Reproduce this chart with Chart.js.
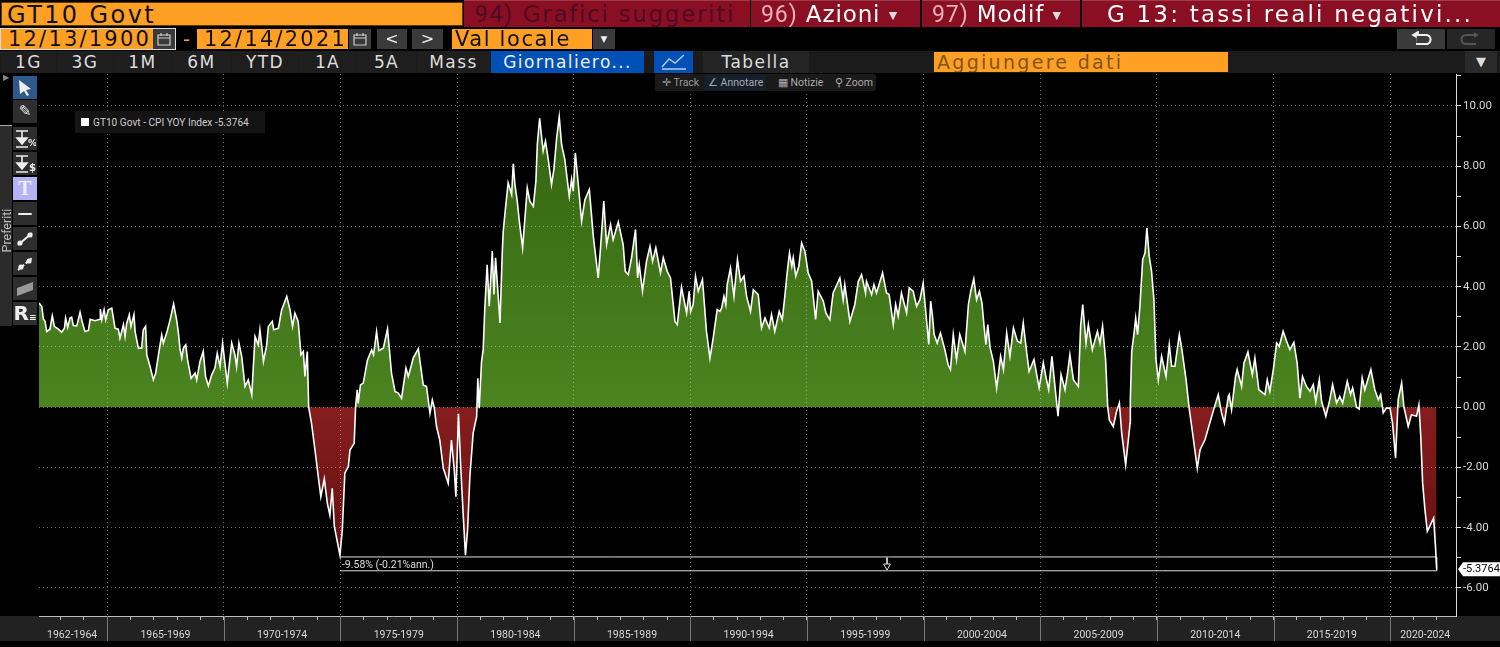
<!DOCTYPE html>
<html>
<head>
<meta charset="utf-8">
<title>GT10 Govt - CPI YOY Index</title>
<script src="https://cdn.jsdelivr.net/npm/chart.js@4/dist/chart.umd.min.js"></script>
<style>
html,body{margin:0;padding:0;background:#000;width:1500px;height:647px;overflow:hidden;}
#chart{position:absolute;left:0;top:0;}
.b{position:absolute;white-space:nowrap;font-family:"DejaVu Sans",sans-serif;box-sizing:border-box;overflow:hidden;}
.or{background:#ff9f24;color:#111;}
.red{background:#8a0f22;color:#fff;font-size:23px;line-height:26px;height:27px;top:0;border-top:1px solid #a03a48;}
.red i{font-style:normal;color:#e8b0b8;font-family:Roboto,sans-serif;}
.gr{background:#3a3a3a;color:#eee;text-align:center;}
.tab{top:51px;height:22px;line-height:22px;background:#1e1e1e;color:#ddd;font-size:17px;text-align:center;letter-spacing:1.4px;}
.tool{left:13px;width:24px;height:23px;background:#2e2e2e;color:#eee;text-align:center;font-weight:bold;font-size:15px;line-height:23px;}
.sm{top:75px;height:15px;line-height:15px;color:#aaa;background:#1a1a1a;font-family:Roboto,sans-serif;font-size:10.5px;padding:0 3px;}
svg{display:block;margin:auto;}
</style>
</head>
<body>
<canvas id="chart" width="1500" height="647"></canvas>

<div class="b or" style="left:1px;top:2px;width:462px;height:24px;font-size:24px;line-height:24px;padding-left:5px;letter-spacing:2.4px;border:1px solid #5a3808;">GT10 Govt</div>
<div class="b red" style="left:464px;width:286px;padding-left:11px;color:#4c0a26;letter-spacing:1.7px;"><i style="color:#4c0a26">94)</i> Grafici suggeriti</div>
<div class="b red" style="left:751px;width:169px;padding-left:10px;letter-spacing:.9px;"><i>96)</i> Azioni <span style="font-size:11px;vertical-align:3px;color:#ddd;">&#9660;</span></div>
<div class="b red" style="left:922px;width:158px;padding-left:10px;letter-spacing:.9px;"><i>97)</i> Modif <span style="font-size:11px;vertical-align:3px;color:#ddd;">&#9660;</span></div>
<div class="b red" style="left:1082px;width:418px;padding-left:25px;letter-spacing:2.2px;">G 13: tassi reali negativi...</div>

<div class="b" style="left:0;top:28px;width:176px;height:22px;border:1px solid #ddd;"></div>
<div class="b or" style="left:1px;top:29px;width:152px;height:20px;font-size:21px;line-height:21px;padding-left:7px;letter-spacing:2.2px;">12/13/1900</div>
<div class="b gr" style="left:153px;top:29px;width:22px;height:20px;padding-top:3px;"><svg width="16" height="14" viewBox="0 0 16 14"><path d="M2 3 H14 V13 H2 Z M2 6 H14 M5 1 V4 M11 1 V4" stroke="#ccc" fill="none" stroke-width="1.2"/></svg></div>
<div class="b" style="left:183px;top:28px;width:12px;height:22px;color:#ff9f24;font-size:20px;line-height:22px;">-</div>
<div class="b or" style="left:197px;top:29px;width:151px;height:20px;font-size:21px;line-height:21px;padding-left:7px;letter-spacing:2.2px;">12/14/2021</div>
<div class="b gr" style="left:349px;top:29px;width:22px;height:20px;padding-top:3px;"><svg width="16" height="14" viewBox="0 0 16 14"><path d="M2 3 H14 V13 H2 Z M2 6 H14 M5 1 V4 M11 1 V4" stroke="#ccc" fill="none" stroke-width="1.2"/></svg></div>
<div class="b gr" style="left:377px;top:29px;width:30px;height:20px;font-size:16px;line-height:20px;">&lt;</div>
<div class="b gr" style="left:412px;top:29px;width:31px;height:20px;font-size:16px;line-height:20px;">&gt;</div>
<div class="b or" style="left:452px;top:29px;width:140px;height:20px;font-size:21px;line-height:21px;padding-left:3px;letter-spacing:1.6px;">Val locale</div>
<div class="b gr" style="left:593px;top:29px;width:22px;height:20px;font-size:9px;line-height:20px;">&#9660;</div>
<div class="b gr" style="left:1397px;top:29px;width:48px;height:20px;padding-top:2px;"><svg width="24" height="16" viewBox="0 0 24 16"><path d="M8 4 H17 A4.5 4.5 0 0 1 17 13 H7 M9 1 L4 4 L9 7 Z" stroke="#eee" fill="#eee" stroke-width="1.8" fill-rule="nonzero"/><path d="M8 4 H17 A4.5 4.5 0 0 1 17 13 H7" stroke="#eee" fill="#3a3a3a" stroke-width="2"/></svg></div>
<div class="b" style="left:1447px;top:29px;width:48px;height:20px;background:#262626;padding-top:2px;"><svg width="24" height="16" viewBox="0 0 24 16"><path d="M16 4 H7 A4.5 4.5 0 0 0 7 13 H17" stroke="#555" fill="#262626" stroke-width="2"/><path d="M15 1 L20 4 L15 7 Z" fill="#555"/></svg></div>

<div class="b" style="left:0;top:51px;width:1500px;height:22px;background:#1b1b1b;"></div>
<div class="b tab" style="left:1px;width:55px;">1G</div>
<div class="b tab" style="left:57px;width:56px;">3G</div>
<div class="b tab" style="left:114px;width:57px;">1M</div>
<div class="b tab" style="left:172px;width:59px;">6M</div>
<div class="b tab" style="left:232px;width:66px;">YTD</div>
<div class="b tab" style="left:299px;width:57px;">1A</div>
<div class="b tab" style="left:357px;width:59px;">5A</div>
<div class="b tab" style="left:417px;width:73px;">Mass</div>
<div class="b tab" style="left:491px;width:153px;background:#0050b8;color:#f0f0f0;">Giornaliero...</div>
<div class="b tab" style="left:654px;width:39px;background:#0050b8;"><svg width="30" height="20" viewBox="0 0 30 20"><path d="M3 16 L10 8 L16 12 L25 4 M3 18 H27" stroke="#bcd" fill="none" stroke-width="1.4"/></svg></div>
<div class="b tab" style="left:703px;width:106px;background:#242424;">Tabella</div>
<div class="b" style="left:934px;top:52px;width:294px;height:20px;background:#ff9f24;color:#80561a;font-size:19px;line-height:21px;padding-left:3px;letter-spacing:2.3px;">Aggiungere dati</div>
<div class="b tab" style="left:1465px;width:32px;background:#2a2a2a;font-size:13px;letter-spacing:0;">&#9660;</div>

<div class="b" style="left:655px;top:74px;width:220px;height:17px;background:#1a1a1a;"></div>
<div class="b sm" style="left:659px;color:#999;">&#10011; Track</div>
<div class="b sm" style="left:705px;background:#14202c;">&#8736; Annotare</div>
<div class="b sm" style="left:775px;">&#9638; Notizie</div>
<div class="b sm" style="left:832px;">&#9906; Zoom</div>

<div class="b" style="left:3px;top:73px;width:8px;height:10px;color:#888;font-size:8px;line-height:10px;">&#9654;</div>
<div class="b" style="left:0;top:125px;width:12px;height:201px;background:#2b2b2b;border-top:1px solid #aaa;"></div>
<div class="b" style="left:-22px;top:218px;width:56px;height:13px;line-height:13px;color:#bbb;font-family:Roboto,sans-serif;font-size:12.5px;transform:rotate(-90deg);">Preferiti</div>
<div class="b tool" style="top:76px;background:#2d5a8a;padding-top:3px;"><svg width="18" height="18" viewBox="0 0 18 18"><path d="M3 1 L15 10 L10 11 L13 16 L11 17 L8 12 L4 15 Z" fill="#eee"/></svg></div>
<div class="b tool" style="top:100px;">&#9998;</div>
<div class="b tool" style="top:127px;padding-top:2px;"><svg width="22" height="20" viewBox="0 0 22 20"><path d="M2 2 H14 M8 2 V10 M3 9 H13 L8 15 Z M2 18 H14" stroke="#eee" fill="#eee" stroke-width="1.6"/><text x="14" y="17" font-size="9" font-weight="bold" fill="#eee">%</text></svg></div>
<div class="b tool" style="top:152px;padding-top:2px;"><svg width="22" height="20" viewBox="0 0 22 20"><path d="M2 2 H14 M8 2 V10 M3 9 H13 L8 15 Z M2 18 H14" stroke="#eee" fill="#eee" stroke-width="1.6"/><text x="15" y="17" font-size="10" font-weight="bold" fill="#eee">$</text></svg></div>
<div class="b tool" style="top:177px;background:#b4b4f4;color:#eef;font-family:'Liberation Serif',serif;font-size:20px;">T</div>
<div class="b tool" style="top:202px;">&#8212;</div>
<div class="b tool" style="top:227px;padding-top:2px;"><svg width="20" height="20" viewBox="0 0 20 20"><path d="M3 16 L17 4" stroke="#eee" stroke-width="2"/><circle cx="5" cy="14" r="2.6" fill="#eee"/><circle cx="15" cy="6" r="2.6" fill="#eee"/></svg></div>
<div class="b tool" style="top:252px;padding-top:2px;"><svg width="20" height="20" viewBox="0 0 20 20"><path d="M3 16 L17 4" stroke="#eee" stroke-width="2" stroke-dasharray="3 2"/><circle cx="6" cy="13" r="2.6" fill="#eee"/><circle cx="14" cy="7" r="2.6" fill="#eee"/></svg></div>
<div class="b tool" style="top:277px;padding-top:2px;"><svg width="20" height="20" viewBox="0 0 20 20"><path d="M2 9 L18 3 V11 L2 17 Z" fill="#999"/></svg></div>
<div class="b tool" style="top:302px;font-size:20px;">R<span style="font-size:9px;">&#8801;</span></div>

<div class="b" style="left:75px;top:111px;width:190px;height:22px;background:#141414;color:#ccc;font-family:Roboto,sans-serif;font-size:11.5px;line-height:22px;">
<span style="position:absolute;left:6px;top:7px;width:8px;height:8px;background:#fff;"></span><span style="position:absolute;left:18px;top:0;transform:scaleX(.88);transform-origin:left;">GT10 Govt - CPI YOY Index -5.3764</span></div>

<script>
// one pair of arrays per stretch
let dates_a = [1962.08,1962.20,1962.27,1962.34,1962.41,1962.55,1962.65,1962.74,1962.91,1963.05,1963.17,1963.22,1963.31,1963.41,1963.48,1963.55,1963.70,1963.84,1963.94,1964.05,1964.20,1964.27,1964.48,1964.70,1964.71,1964.77,1964.87,1964.94,1965.05,1965.20,1965.34,1965.48,1965.55,1965.70,1965.77,1965.84,1965.95,1966.02,1966.15,1966.20,1966.34,1966.48,1966.55,1966.65,1966.70,1966.84,1966.98,1967.08,1967.20,1967.34,1967.41,1967.55,1967.70,1967.85,1967.98,1968.05,1968.12,1968.20,1968.27,1968.37,1968.45,1968.60,1968.77,1968.84,1968.98,1969.12,1969.22,1969.34,1969.48,1969.62,1969.72,1969.84,1969.95,1970.05,1970.15,1970.34,1970.48,1970.55,1970.65,1970.77,1970.91,1971.05,1971.20,1971.34,1971.48,1971.55,1971.70,1971.84,1971.91,1972.08,1972.14,1972.34,1972.48,1972.70,1972.84,1972.95,1973.05];
let values_a = [3.46,3.34,2.92,2.85,2.51,2.59,3.03,2.68,2.59,2.49,2.62,2.96,2.65,2.96,2.99,2.71,2.70,3.15,2.81,2.51,2.55,2.92,2.87,2.92,3.26,2.90,3.23,2.90,3.23,3.29,2.62,2.59,2.29,2.74,2.35,2.79,3.07,2.68,3.07,2.51,1.96,1.96,2.57,2.68,1.74,1.35,0.91,1.13,1.74,2.40,2.13,2.46,2.90,3.43,2.90,2.51,1.96,1.63,1.96,2.07,1.57,0.96,1.13,0.91,1.52,1.85,1.02,0.71,1.07,1.30,1.79,1.35,2.13,1.46,0.80,2.13,1.74,1.35,2.13,1.68,0.69,0.91,0.41,2.35,2.07,2.57,1.52,2.07,2.68,2.85,2.57,2.62,3.23,3.68,3.23,2.68,3.12];

let dates_b = [1973.19,1973.31,1973.41,1973.48,1973.58,1973.64,1973.76,1973.91,1974.05,1974.16,1974.31,1974.44,1974.55,1974.65,1974.74,1974.98,1975.08,1975.19,1975.34,1975.41,1975.59,1975.65,1975.72,1975.76,1975.86,1975.98,1976.16,1976.34,1976.42,1976.55,1976.65,1976.84,1977.02,1977.19,1977.34,1977.48,1977.62,1977.81,1977.91,1978.01,1978.12,1978.34,1978.55,1978.69,1978.84,1978.94,1979.02,1979.12,1979.26,1979.41,1979.62,1979.76,1979.88,1979.95,1980.06,1980.15,1980.26,1980.36,1980.45,1980.55,1980.69,1980.84,1980.89,1980.95];
let values_b = [2.85,1.74,1.85,1.02,1.85,0,-0.53,-1.42,-2.30,-2.97,-2.38,-3.19,-3.58,-2.69,-3.96,-4.91,-4.08,-2.19,-1.97,-1.42,-1.20,0,0.58,0.13,0.74,0.80,1.57,1.90,1.74,2.51,1.88,1.96,2.60,1.13,0.52,0.47,0.30,1.30,1.02,1.30,1.63,1.94,0.74,0.69,-0.20,0.24,0,-0.64,-1.09,-2.03,-2.52,-1.09,-2.08,-2.97,-0.22,-1.86,-3.52,-4.91,-4.08,-2.30,-0.86,-0.31,0.96,-0.03];

let dates_c = [1981.05,1981.12,1981.19,1981.29,1981.38,1981.51,1981.58,1981.65,1981.75,1981.84,1981.94,1981.98,1982.07,1982.19,1982.34,1982.41,1982.48,1982.58,1982.67,1982.81,1982.91,1983.01,1983.12,1983.27,1983.38,1983.44,1983.54,1983.62,1983.69,1983.79,1983.91,1984.05,1984.15,1984.27,1984.38,1984.48,1984.62,1984.81,1984.91,1984.98,1985.07,1985.19,1985.34,1985.48,1985.67,1985.84,1986.05,1986.15,1986.29,1986.41,1986.58,1986.69,1986.91,1987.12,1987.21,1987.34,1987.48,1987.65,1987.74,1987.81,1987.95,1988.12,1988.27,1988.38,1988.52,1988.72,1988.84,1989.01,1989.15,1989.34,1989.44,1989.62,1989.84,1989.95,1990.01,1990.12,1990.22,1990.34,1990.52,1990.69,1990.84,1990.98,1991.15,1991.27];
let values_c = [1.52,1.91,3.29,4.73,3.35,5.18,3.74,4.96,3.85,2.80,5.18,5.84,6.56,7.45,7.06,8.08,7.39,6.84,6.17,5.29,6.28,7.28,6.84,6.67,7.50,8.72,9.59,9.00,8.50,8.83,8.22,7.39,7.89,8.94,9.64,8.72,8.22,7.00,7.56,7.17,8.44,7.45,6.17,6.89,7.23,5.68,4.29,5.29,6.84,5.40,6.06,5.56,6.15,5.40,4.51,4.40,4.96,5.90,4.29,4.73,3.85,4.84,5.34,4.84,5.29,4.46,4.96,4.51,4.29,2.85,2.74,3.98,3.13,3.85,3.18,3.41,4.35,3.85,4.24,2.52,1.63,2.30,3.24,3.18];

let dates_d = [1991.34,1991.44,1991.52,1991.58,1991.72,1991.87,1992.02,1992.15,1992.30,1992.41,1992.58,1992.70,1992.91,1993.05,1993.20,1993.38,1993.48,1993.62,1993.81,1993.94,1994.05,1994.15,1994.25,1994.35,1994.41,1994.52,1994.65,1994.77,1994.91,1995.05,1995.20,1995.37,1995.48,1995.70,1995.81,1995.98,1996.12,1996.41,1996.55,1996.62,1996.84,1997.05,1997.20,1997.34,1997.51,1997.55,1997.77,1997.87,1997.98,1998.24,1998.41,1998.52,1998.70,1998.80,1998.91,1999.05,1999.27,1999.38,1999.55,1999.70,1999.84,1999.98,2000.22,2000.30,2000.38,2000.45,2000.58,2000.72,2000.91,2001.05,2001.15,2001.27,2001.41,2001.55,2001.77];
let values_d = [3.29,3.68,3.41,4.07,4.62,3.68,4.90,4.18,4.35,3.68,3.18,3.90,3.74,2.63,2.96,2.63,3.07,2.52,3.18,2.91,3.68,4.46,5.12,4.68,4.96,4.35,4.68,5.45,5.18,4.46,4.18,2.91,3.85,3.52,3.13,2.91,3.79,4.29,3.57,4.07,2.85,3.41,4.18,4.40,3.79,4.18,3.74,4.07,3.79,4.46,3.79,3.74,2.74,3.41,3.02,3.79,3.13,3.96,3.85,3.35,3.57,4.12,2.08,3.52,3.02,2.41,2.13,2.46,1.91,1.41,1.25,2.41,1.58,2.41,1.85];

let dates_e = [2001.92,2002.02,2002.15,2002.27,2002.39,2002.50,2002.59,2002.67,2002.75,2002.85,2002.99,2003.13,2003.30,2003.42,2003.56,2003.70,2003.85,2004.02,2004.16,2004.27,2004.42,2004.52,2004.73,2004.95,2005.13,2005.25,2005.36,2005.50,2005.63,2005.76,2005.89,2006.06,2006.17,2006.27,2006.42,2006.63,2006.73,2006.82,2006.96,2007.06,2007.23,2007.45,2007.56,2007.67,2007.80,2007.89,2007.96,2008.13,2008.27,2008.39,2008.49,2008.66,2008.85,2008.86,2008.92,2009.02,2009.09,2009.17,2009.27,2009.39,2009.49,2009.57,2009.67,2009.77,2009.87,2009.96,2010.06,2010.20,2010.39,2010.53,2010.63,2010.77,2010.96,2011.06,2011.25,2011.39,2011.49,2011.73,2011.85,2012.06,2012.35,2012.45,2012.63,2012.77,2012.89,2013.06];
let values_e = [3.41,3.85,4.26,3.57,3.85,3.46,2.69,2.08,2.74,1.97,1.52,0.64,1.69,1.25,2.46,1.69,2.63,2.19,2.13,2.80,1.80,1.19,1.58,0.64,1.47,0.97,0.58,1.69,0.69,-0.30,1.08,0.58,1.14,1.74,0.91,0.69,2.69,3.41,2.13,2.74,1.91,2.52,2.13,2.69,1.58,0.03,-0.42,-0.64,-0.14,0.14,-0.86,-1.91,-0.53,0.25,1.85,2.46,2.96,2.41,3.35,4.90,5.12,5.95,5.01,4.51,3.57,1.58,0.91,1.69,1.02,2.08,1.36,1.36,2.41,1.97,0.91,-0.08,-0.64,-2.02,-1.41,-1.08,-0.30,-0.03,0.42,-0.19,-0.53,0.36];

let dates_f = [2013.10,2013.20,2013.37,2013.44,2013.63,2013.73,2013.90,2014.09,2014.20,2014.37,2014.63,2014.73,2014.84,2014.99,2015.13,2015.24,2015.41,2015.56,2015.70,2015.87,2016.01,2016.13,2016.24,2016.41,2016.56,2016.70,2016.81,2016.96,2017.06,2017.24,2017.41,2017.53,2017.70,2017.84,2017.96,2018.16,2018.30,2018.39,2018.56,2018.67,2018.80,2018.91,2019.17,2019.34,2019.49,2019.59,2019.70,2019.84,2019.99,2020.10,2020.23,2020.34,2020.49,2020.59,2020.77,2020.91,2021.13,2021.23,2021.31,2021.39,2021.49,2021.59,2021.86,2021.94,2021.99];
let values_f = [0.42,-0.08,1.02,1.25,0.69,1.47,1.83,1.08,1.63,0.58,0.42,0.91,0.53,1.25,2.13,2.02,2.52,2.19,1.91,2.15,1.47,0.30,1.02,0.69,0.53,0.75,0.19,0.91,0.19,-0.30,0.25,0.75,0.14,0.36,0.14,0.86,0.42,0.64,0,-0.06,0.97,0.58,1.25,0.58,0.25,0.42,-0.19,-0.03,-0.03,-0.53,-1.69,0.25,0.80,0,-0.64,-0.25,-0.30,0.08,-0.97,-2.52,-3.41,-4.12,-3.68,-4.62,-5.3764];

let era_labels = {1963:"1962-1964",1967:"1965-1969",1972:"1970-1974",1977:"1975-1979",1982:"1980-1984",1987:"1985-1989",1992:"1990-1994",1997:"1995-1999",2002:"2000-2004",2007:"2005-2009",2012:"2010-2014",2017:"2015-2019",2021:"2020-2024"};

let bracket_dates = [1974.98,2021.99,2021.99,1974.98];
let bracket_values = [-4.97,-4.97,-5.43,-5.43];
let last_value = -5.3764;
let bracket_text = "-9.58% (-0.21%ann.)";

let dates = dates_a.concat(dates_b,dates_c,dates_d,dates_e,dates_f);
let values = values_a.concat(values_b,values_c,values_d,values_e,values_f);
let narrow = "Roboto, sans-serif";

function to_points(xs,ys){
    return xs.map(function(x,i){ return {x:x,y:ys[i]}; });
}

// band under the chart, separators, price tag
let extras = {
    id:"extras",
    beforeDraw:function(chart){
        let c = chart.ctx, a = chart.chartArea;
        c.save();
        c.fillStyle = "#222222";
        c.fillRect(0,a.bottom,1500,25);
        c.restore();
    },
    afterDraw:function(chart){
        let c = chart.ctx, a = chart.chartArea, sx = chart.scales.x, sy = chart.scales.y;
        c.save();
        c.strokeStyle = "#777777";
        c.lineWidth = 1;
        for(let y=1965;y<=2020;y+=5){
            let px = Math.round(sx.getPixelForValue(y))+0.5;
            c.beginPath();c.moveTo(px,a.bottom);c.lineTo(px,a.bottom+25);c.stroke();
        }
        // label inside the bracket
        c.font = "10.5px "+narrow;
        c.fillStyle = "#dddddd";
        c.textBaseline = "middle";
        c.fillText(bracket_text,sx.getPixelForValue(bracket_dates[0])+2,sy.getPixelForValue(-5.26));
        // last value tag
        let ty = sy.getPixelForValue(last_value);
        c.fillStyle = "#ffffff";
        c.beginPath();
        c.moveTo(a.right+2,ty);c.lineTo(a.right+7,ty-7);c.lineTo(1500,ty-7);c.lineTo(1500,ty+7);c.lineTo(a.right+7,ty+7);
        c.closePath();c.fill();
        c.fillStyle = "#000000";
        c.font = "11px "+narrow;
        c.fillText(last_value.toFixed(4),a.right+7,ty+0.5);
        c.restore();
    }
};

let chart = new Chart(document.getElementById("chart"),{
    type:"line",
    data:{
        datasets:[{
            label:"GT10 Govt - CPI YOY Index",
            data:to_points(dates,values),
            borderColor:"#ffffff",
            borderWidth:1.6,
            pointRadius:0,
            tension:0,
            fill:{target:"origin",above:"#4a821e",below:"#7a1a1a"}
        },{
            label:"bracket",
            data:to_points(bracket_dates,bracket_values),
            borderColor:"#dddddd",
            borderWidth:1,
            pointRadius:0,
            tension:0,
            fill:false
        },{
            label:"arrow",
            data:to_points([1998.43,1998.43],[-4.99,-5.27]),
            borderColor:"#dddddd",
            borderWidth:1,
            pointRadius:[0,4],
            pointStyle:"triangle",
            pointRotation:180,
            pointBorderColor:"#dddddd",
            pointBackgroundColor:"#000000",
            fill:false
        }]
    },
    options:{
        responsive:false,
        animation:false,
        devicePixelRatio:1,
        layout:{padding:{left:39,top:74,right:0,bottom:0}},
        plugins:{legend:{display:false},tooltip:{enabled:false}},
        scales:{
            x:{
                type:"linear",
                min:1962.08,
                max:2022.82,
                afterFit:function(s){ s.height = 31; },
                afterBuildTicks:function(s){
                    let t = [];
                    for(let y=1963;y<=2022;y++){ t.push({value:y}); }
                    s.ticks = t;
                },
                border:{color:"#bbbbbb",dash:[1,3]},
                grid:{
                    z:1,
                    color:function(ctx){ return ctx.tick && ctx.tick.value%5==0 ? "rgba(255,255,255,0.4)" : "rgba(0,0,0,0)"; },
                    tickColor:"#bbbbbb",
                    tickLength:4
                },
                ticks:{
                    autoSkip:false,
                    maxRotation:0,
                    labelOffset:11.66,
                    padding:9,
                    color:"#d8d8d8",
                    font:{family:narrow,size:10.5},
                    callback:function(v){ return era_labels[v] || ""; }
                }
            },
            y:{
                position:"right",
                min:-6.93,
                max:11.06,
                afterFit:function(s){ s.width = 44; },
                border:{color:"#dddddd",dash:[1,3]},
                grid:{
                    z:1,
                    color:function(ctx){ return ctx.tick && ctx.tick.value%2==0 ? "rgba(255,255,255,0.4)" : "rgba(0,0,0,0)"; },
                    tickColor:"#dddddd",
                    tickLength:5
                },
                ticks:{
                    stepSize:1,
                    includeBounds:false,
                    padding:2,
                    color:"#d8d8d8",
                    font:{family:narrow,size:11.5},
                    callback:function(v){ return v%2==0 ? v.toFixed(2) : ""; }
                }
            }
        }
    },
    plugins:[extras]
});

// gradients need the scale positions, so they go in after the first layout
let g = chart.ctx;
let zero_px = chart.scales.y.getPixelForValue(0);
let above = g.createLinearGradient(0,chart.scales.y.getPixelForValue(10),0,zero_px);
above.addColorStop(0,"#326410");
above.addColorStop(1,"#4c8420");
let below = g.createLinearGradient(0,zero_px,0,chart.scales.y.getPixelForValue(-5));
below.addColorStop(0,"#861e1e");
below.addColorStop(1,"#660e0e");
chart.data.datasets[0].fill = {target:"origin",above:above,below:below};
chart.update("none");
</script>
</body>
</html>
